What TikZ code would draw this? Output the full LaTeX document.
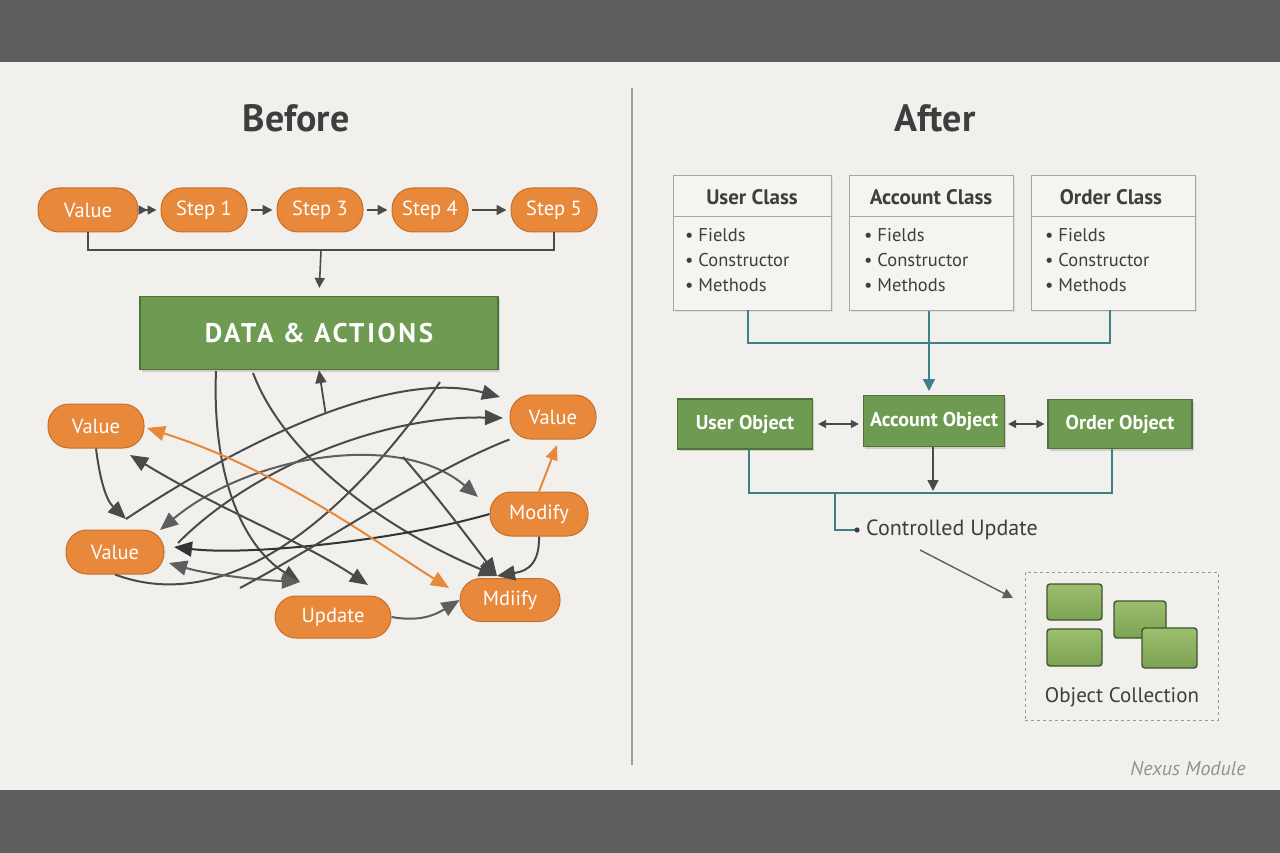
\documentclass[tikz,border=0pt]{standalone}
\usepackage{fontspec}
\setmainfont{PT Sans}
\usetikzlibrary{arrows.meta,shadows}
\definecolor{bg}{HTML}{F2F0EC}
\definecolor{band}{HTML}{5E5E5E}
\definecolor{org}{HTML}{E8883A}
\definecolor{orgd}{HTML}{C8702A}
\definecolor{grn}{HTML}{6F9A52}
\definecolor{grnd}{HTML}{4E7238}
\definecolor{ink}{HTML}{3E3E3E}
\definecolor{tealc}{HTML}{3D8088}
\definecolor{lne}{HTML}{4A4A4A}
\definecolor{lnel}{HTML}{5E5E5E}
\definecolor{boxbg}{HTML}{F5F4F1}
\definecolor{sqtop}{HTML}{9DBF6E}
\definecolor{sqbot}{HTML}{7BA253}
\definecolor{sqd}{HTML}{3F5530}
\begin{document}
\begin{tikzpicture}[x=1pt,y=-1pt,
  pill/.style={draw=orgd, fill=org, line width=1pt, rounded corners=21pt, minimum height=44pt, text=white, font=\fontsize{20.5}{24}\selectfont, inner sep=0pt},
  conn/.style={draw=lne, line width=1.6pt},
  tarr/.style={conn, -{Triangle[length=10pt,width=10pt]}},
  sp/.style={draw=lne, line width=2pt},
  spa/.style={sp, -{Triangle[length=18pt,width=15pt]}},
  spb/.style={sp, {Triangle[length=18pt,width=15pt]}-{Triangle[length=18pt,width=15pt]}},
  spo/.style={draw=org, line width=2pt, {Triangle[length=18pt,width=15pt]}-{Triangle[length=18pt,width=15pt]}},
  title/.style={text=ink, font=\fontsize{38}{44}\selectfont\bfseries},
  gbox/.style={draw=grnd, fill=grn, line width=1.2pt, text=white, inner sep=0pt, drop shadow={opacity=0.3, shadow xshift=1.5pt, shadow yshift=-2pt}},
  cbox/.style={draw=gray!70, fill=boxbg, line width=1pt, inner sep=0pt, drop shadow={opacity=0.15, shadow xshift=1.5pt, shadow yshift=-2pt}},
  chead/.style={text=ink, font=\fontsize{21}{24}\selectfont\bfseries},
  citem/.style={text=ink, font=\fontsize{18.5}{25}\selectfont, align=left, anchor=north west, inner sep=0pt},
  tline/.style={draw=tealc, line width=1.5pt},
  sq/.style={draw=sqd, line width=1.4pt, rounded corners=3pt, top color=sqtop, bottom color=sqbot, inner sep=0pt},
]
\useasboundingbox (0,0) rectangle (1280,853);
% background
\fill[bg] (0,0) rectangle (1280,853);
\fill[band] (0,0) rectangle (1280,62);
\fill[band] (0,790) rectangle (1280,853);
\draw[gray!75, line width=1.2pt] (632,88) -- (632,765);

% titles
\node[title] (tb) at (296,118) {Before};
\node[title] (ta) at (935,118) {After};

% ---------- BEFORE: top row
\node[pill, minimum width=100pt] (val) at (88,210) {Value};
\node[pill, minimum width=86pt] (s1) at (204,210) {Step 1};
\node[pill, minimum width=86pt] (s3) at (320,210) {Step 3};
\node[pill, minimum width=76pt] (s4) at (430,210) {Step 4};
\node[pill, minimum width=86pt] (s5) at (554,210) {Step 5};
\draw[conn, -{Triangle[length=9pt,width=9pt]Triangle[length=9pt,width=9pt]}, shorten <=4pt, shorten >=4pt] (val) -- (s1);
\draw[tarr, shorten <=3pt, shorten >=4pt] (s1) -- (s3);
\draw[tarr, shorten <=3pt, shorten >=4pt] (s3) -- (s4);
\draw[tarr, shorten <=3pt, shorten >=4pt] (s4) -- (s5);

\node[gbox, minimum width=358pt, minimum height=73pt, font=\fontsize{27}{30}\selectfont\bfseries\addfontfeatures{LetterSpace=10}] (data) at (319,333) {DATA \& ACTIONS};
\coordinate (brk) at (321,250);
\draw[conn] (val.south) |- (brk) -| (s5.south);
\draw[tarr, shorten >=8pt] (brk) -- (data.north);

% ---------- BEFORE: tangled part
\node[pill, minimum width=96pt] (v1) at (96,426) {Value};
\node[pill, minimum width=86pt] (v2) at (553,417) {Value};
\node[pill, minimum width=98pt] (mod) at (539,514) {Modify};
\node[pill, minimum width=98pt] (v3) at (115,552) {Value};
\node[pill, minimum width=116pt, minimum height=42pt] (upd) at (333,617) {Update};
\node[pill, minimum width=100pt, minimum height=43pt] (mdi) at (510,600) {Mdiify};

\coordinate (d1) at (216,371);
\coordinate (d2) at (253,373);
\coordinate (d3) at (440,382);
\coordinate (updTL) at (300,582);
\coordinate (updTR) at (368,585);
\coordinate (mdiT) at (497,576);
\coordinate (v2T) at (500,397);
\coordinate (v2L) at (503,418);
\coordinate (v3T) at (126,519);
\coordinate (v3A) at (160,530);
\coordinate (v3B) at (174,547);
\coordinate (v3C) at (169,563);
\coordinate (v3R) at (178,543);
\coordinate (v1R) at (147,428);
\coordinate (v1B) at (130,455);
\coordinate (modL) at (478,497);
\coordinate (mdiL) at (449,588);
\coordinate (x1) at (403,457);
\coordinate (x2) at (240,588);

\draw[spa] (d1) .. controls (212,470) and (240,545) .. (updTL);
\draw[spa] (d2) .. controls (290,470) and (410,540) .. (mdiT);
\draw[sp] (d3) .. controls (380,470) and (250,625) .. (v3.south);
\draw[spa] (v3T) .. controls (260,430) and (400,370) .. coordinate[pos=0.5] (upst) (v2T);
\draw[conn, line width=1.8pt, -{Triangle[length=13pt,width=11pt]}, shorten <=1pt] (upst) -- (data.south);
\draw[spa] (v3R) .. controls (250,470) and (380,415) .. (v2L);
\draw[spb, draw=lnel] (v3A) .. controls (250,455) and (400,430) .. (modL);
\draw[spa, draw=black!80] (mod.west) .. controls (400,540) and (250,556) .. (v3B);
\draw[spb, draw=lnel] (v3C) .. controls (210,575) and (260,580) .. (updTL);
\draw[spb] (v1B) .. controls (220,510) and (300,540) .. (updTR);
\draw[spo] (v1R) .. controls (280,470) and (380,545) .. (mdiL);
\draw[spa] (v1.south) .. controls (100,480) and (106,500) .. (v3T);
\draw[sp] (v2.south west) .. controls (430,470) and (330,540) .. (x2);
\draw[spa] (x1) .. controls (440,500) and (470,540) .. (mdiT);
\draw[spa] (mod.south) .. controls (540,570) and (520,572) .. (mdiT);
\draw[spa, draw=lnel] (upd.east) .. controls (420,622) and (435,615) .. (mdi.west);
\draw[draw=org, line width=2pt, -{Triangle[length=15pt,width=12pt]}] (mod.north) -- (557,445);

% ---------- AFTER: classes
\node[cbox, minimum width=158pt, minimum height=134pt] (uc) at (752,243) {};
\node[cbox, minimum width=164pt, minimum height=134pt] (ac) at (931,243) {};
\node[cbox, minimum width=164pt, minimum height=134pt] (oc) at (1113,243) {};
\draw[gray!70, line width=1pt] (uc.west |- 0,217) -- (uc.east |- 0,217);
\draw[gray!70, line width=1pt] (ac.west |- 0,217) -- (ac.east |- 0,217);
\draw[gray!70, line width=1pt] (oc.west |- 0,217) -- (oc.east |- 0,217);
\node[chead] (uch) at (752,197) {User Class};
\node[chead] (ach) at (931,197) {Account Class};
\node[chead] (och) at (1111,197) {Order Class};
\node[citem] (uci) at (685,228) {• Fields\\ • Constructor\\ • Methods};
\node[citem] (aci) at (864,228) {• Fields\\ • Constructor\\ • Methods};
\node[citem] (oci) at (1045,228) {• Fields\\ • Constructor\\ • Methods};

\coordinate (cbar) at (929,343);
\draw[tline] (748,310) |- (cbar) -| (1110,310);
\draw[tline, -{Triangle[length=12pt,width=12pt]}] (ac.south -| cbar) -- (929,391);

% objects
\node[gbox, minimum width=135pt, minimum height=50pt, font=\fontsize{20}{24}\selectfont\bfseries] (uo) at (745,424) {User Object};
\node[gbox, minimum width=141pt, minimum height=51pt, font=\fontsize{20}{24}\selectfont\bfseries] (ao) at (934,421) {Account Object};
\node[gbox, minimum width=144pt, minimum height=49pt, font=\fontsize{20}{24}\selectfont\bfseries] (oo) at (1120,424) {Order Object};
\draw[conn, line width=1.5pt, {Triangle[length=8pt,width=8pt]}-{Triangle[length=8pt,width=8pt]}, shorten <=5pt, shorten >=4pt] (uo.east) -- (uo.east -| ao.west);
\draw[conn, line width=1.5pt, {Triangle[length=8pt,width=8pt]}-{Triangle[length=8pt,width=8pt]}, shorten <=3pt, shorten >=3pt] (ao.east |- oo.east) -- (oo.west);

\coordinate (obar) at (933,493);
\draw[tline] (749,449) |- (obar) -| (1112,449);
\draw[conn, line width=1.4pt, -{Triangle[length=11pt,width=11pt]}] (ao.south -| obar) -- (933,491);
\node[text=ink, font=\fontsize{22}{26}\selectfont, anchor=west, inner sep=0pt] (cu) at (866,530) {Controlled Update};
\coordinate (cubr) at (835,493);
\draw[tline] (cubr) |- (856,530);
\fill[ink] (857,530) circle (2.6pt);

% collection
\node[draw=gray!80, dashed, line width=1pt, minimum width=193pt, minimum height=148pt, inner sep=0pt] (coll) at (1121.5,646) {};
\coordinate (collin) at (1013,598);
\draw[draw=lnel, line width=1.4pt, -{Triangle[length=10pt,width=10pt]}] (920,550) -- (collin);
\node[sq, minimum width=55pt, minimum height=36pt] (q1) at (1074.5,602) {};
\node[sq, minimum width=55pt, minimum height=37pt] (q2) at (1074.5,647.5) {};
\node[sq, minimum width=52pt, minimum height=37pt] (q3) at (1140,619.5) {};
\node[sq, minimum width=55pt, minimum height=40pt] (q4) at (1169.5,648) {};
\node[text=ink, font=\fontsize{21}{25}\selectfont] (ocl) at (1122,697) {Object Collection};

\node[text=gray!85, font=\fontsize{20}{24}\selectfont\itshape] (nm) at (1188,769) {Nexus Module};
\end{tikzpicture}
\end{document}
